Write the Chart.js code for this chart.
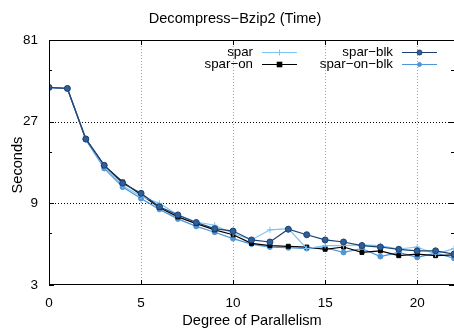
<!DOCTYPE html>
<html><head><meta charset="utf-8">
<script src="https://cdn.jsdelivr.net/npm/chart.js@4"></script>
<style>html,body{margin:0;padding:0;background:#fff;}#wrap{width:454px;height:330px;}</style>
</head><body><div id="wrap"><canvas id="c" width="454" height="330"></canvas></div>
<script>
const degrees = [0,1,2,3,4,5,6,7,8,9,10,11,12,13,14,15,16,17,18,19,20,21,22];
const spar      = [42.8,42.2,21.4,14.7,11.4,9.9,9.0,7.7,7.0,6.7,6.0,5.5,6.3,6.4,4.9,5.1,5.1,5.15,5.1,4.87,5.0,4.55,4.9];
const sparOn    = [42.8,42.2,21.4,15.0,12.0,10.1,8.5,7.5,6.85,6.3,5.9,5.25,5.1,5.05,5.0,4.85,5.0,4.65,4.75,4.45,4.55,4.45,4.5];
const sparBlk   = [42.8,42.2,21.4,15.0,11.8,10.3,8.6,7.7,6.95,6.4,6.2,5.5,5.35,6.35,5.9,5.5,5.35,5.1,5.0,4.85,4.75,4.75,4.55];
const sparOnBlk = [42.8,42.2,21.2,14.4,11.2,9.6,8.3,7.3,6.6,6.1,5.6,5.2,5.0,4.95,4.9,4.95,4.65,4.9,4.4,4.65,4.35,4.6,4.3];
const yTicks = [3,9,27,81];
const yMinorTicks = [6,18,54];
const xTicks = [0,5,10,15,20];
const titleText = 'Decompress\u2212Bzip2 (Time)';
const xTitle = 'Degree of Parallelism';
const yTitle = 'Seconds';
const labels = ['spar','spar\u2212on','spar\u2212blk','spar\u2212on\u2212blk'];

const FONT = '"Liberation Sans", Arial, sans-serif';
const pts = arr => degrees.map((d,i)=>({x:d,y:arr[i]}));

const series = [
  {label:labels[0], data:pts(spar), borderColor:'#7cc4f4', backgroundColor:'#7cc4f4', pointStyle:'cross', pointRadius:3, borderWidth:1.2, order:2},
  {label:labels[1], data:pts(sparOn), borderColor:'#000000', backgroundColor:'#000000', pointStyle:'rect', pointRadius:2.8, borderWidth:1.2, order:3},
  {label:labels[2], data:pts(sparBlk), borderColor:'#1b3f70', backgroundColor:'#2f5f9a', pointStyle:'circle', pointRadius:3, borderWidth:1.2, order:1},
  {label:labels[3], data:pts(sparOnBlk), borderColor:'#4f95d8', backgroundColor:'#4f95d8', pointStyle:'circle', pointRadius:2.5, borderWidth:1.2, order:4}
];
series.forEach(s=>{s.pointBorderWidth=1; s.tension=0; s.fill=false;});

const decor = {
  id:'decor',
  beforeDatasetsDraw(chart){
    const {ctx, chartArea:a, scales:{x,y}} = chart;
    ctx.save();
    ctx.strokeStyle='#a0a0a0'; ctx.lineWidth=1; ctx.setLineDash([1,2]);
    xTicks.forEach(v=>{ if(v>0){const px=Math.round(x.getPixelForValue(v))+0.5; ctx.beginPath(); ctx.moveTo(px,a.top); ctx.lineTo(px,a.bottom); ctx.stroke();}});
    ctx.strokeStyle='#000';
    [9,27].forEach(v=>{const py=Math.round(y.getPixelForValue(v))+0.5; ctx.beginPath(); ctx.moveTo(a.left,py); ctx.lineTo(a.right,py); ctx.stroke();});
    ctx.setLineDash([]);
    ctx.restore();
  },
  afterDatasetsDraw(chart){
    const {ctx, chartArea:a, scales:{x,y}} = chart;
    ctx.save();
    ctx.strokeStyle='#000'; ctx.lineWidth=1;
    ctx.beginPath();
    ctx.moveTo(a.left+0.5,a.top+0.5); ctx.lineTo(a.right,a.top+0.5);
    ctx.moveTo(a.left+0.5,a.top); ctx.lineTo(a.left+0.5,a.bottom);
    ctx.moveTo(a.left,a.bottom-0.5); ctx.lineTo(a.right,a.bottom-0.5);
    ctx.stroke();
    ctx.beginPath();
    xTicks.forEach(v=>{const px=Math.round(x.getPixelForValue(v))+0.5; ctx.moveTo(px,a.bottom); ctx.lineTo(px,a.bottom-5); ctx.moveTo(px,a.top); ctx.lineTo(px,a.top+5);});
    yTicks.forEach(v=>{const py=Math.round(y.getPixelForValue(v))+0.5; ctx.moveTo(a.left,py); ctx.lineTo(a.left+5,py); ctx.moveTo(a.right,py); ctx.lineTo(a.right-5,py);});
    yMinorTicks.forEach(v=>{const py=Math.round(y.getPixelForValue(v))+0.5; ctx.moveTo(a.left,py); ctx.lineTo(a.left+3,py); ctx.moveTo(a.right,py); ctx.lineTo(a.right-3,py);});
    ctx.stroke();
    ctx.fillStyle='#000';
    ctx.font='14.6px '+FONT; ctx.textAlign='center'; ctx.textBaseline='middle';
    ctx.fillText(titleText, 235, 18.5);
    ctx.fillText(xTitle, 252, 321);
    ctx.save(); ctx.translate(18, 165); ctx.rotate(-Math.PI/2); ctx.fillText(yTitle,0,0); ctx.restore();
    const pos = [[253,52,262,297],[253,64,262,297],[393,52,402,437],[393,64,402,437]];
    chart.data.datasets.forEach((ds,i)=>{
      const [tx,ty,l0,l1]=pos[i];
      ctx.textAlign='right'; ctx.fillStyle='#000'; ctx.font='13.3px '+FONT;
      ctx.fillText(ds.label, tx, ty);
      ctx.strokeStyle=ds.borderColor; ctx.lineWidth=1.2;
      ctx.beginPath(); ctx.moveTo(l0,ty+0.5); ctx.lineTo(l1,ty+0.5); ctx.stroke();
      const cx=(l0+l1)/2;
      ctx.fillStyle=ds.backgroundColor; ctx.strokeStyle=ds.borderColor; ctx.lineWidth=1;
      ctx.beginPath();
      if(ds.pointStyle==='rect'){ctx.fillRect(cx-2.8,ty-2.3,5.6,5.6);}
      else if(ds.pointStyle==='circle'){ctx.arc(cx,ty+0.5,ds.pointRadius-0.5,0,Math.PI*2); ctx.fill(); ctx.stroke();}
      else {ctx.moveTo(cx-3,ty+0.5);ctx.lineTo(cx+3,ty+0.5);ctx.moveTo(cx,ty-2.5);ctx.lineTo(cx,ty+3.5);ctx.stroke();}
    });
    ctx.restore();
  }
};

new Chart(document.getElementById('c'), {
  type:'line',
  data:{datasets:series},
  options:{
    responsive:false, animation:false,
    layout:{autoPadding:false, padding:{top:40,right:0,left:0,bottom:0}},
    plugins:{legend:{display:false}, title:{display:false}, tooltip:{enabled:false}},
    scales:{
      x:{type:'linear', min:0, max:22,
        afterBuildTicks(s){s.ticks = xTicks.map(v=>({value:v}));},
        afterFit(s){s.height=45;},
        grid:{display:false, drawTicks:false}, border:{display:false},
        ticks:{padding:10, color:'#000', font:{family:FONT,size:13.5}, maxRotation:0, autoSkip:false}
      },
      y:{type:'logarithmic', min:3, max:81,
        afterBuildTicks(s){s.ticks = yTicks.map(v=>({value:v}));},
        afterFit(s){s.width=49;},
        grid:{display:false, drawTicks:false}, border:{display:false},
        ticks:{padding:11, color:'#000', font:{family:FONT,size:13.5}, autoSkip:false, callback:v=>String(v)}
      }
    }
  },
  plugins:[decor]
});
</script></body></html>
